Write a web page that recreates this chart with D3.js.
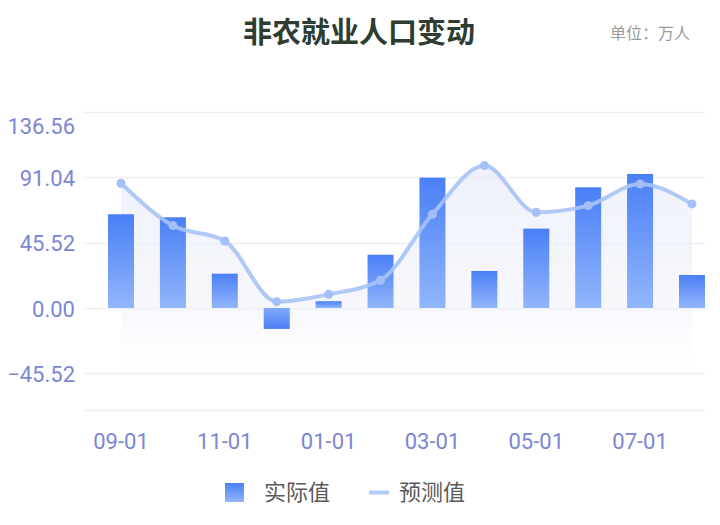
<!DOCTYPE html>
<html>
<head>
<meta charset="utf-8">
<script src="https://cdn.jsdelivr.net/npm/d3@7.9.0/dist/d3.min.js"></script>
<style>
  body { margin: 0; background: #fff; }
  svg { display: block; font-family: "Noto Sans CJK SC", "Noto Sans", sans-serif; }
  .num { font-family: Roboto, "Noto Sans", sans-serif; }
</style>
</head>
<body>
<svg id="chart" width="720" height="525"></svg>
<script>
const months = ["09-01", "10-01", "11-01", "12-01", "01-01", "02-01",
  "03-01", "04-01", "05-01", "06-01", "07-01", "08-01"];
const actual = [65.3, 63.2, 23.9, -14.6, 4.7, 37.1, 90.8, 25.8, 55.3, 84.1, 93.4, 23.0];
const forecast = [86.9, 57.4, 46.7, 4.4, 9.5, 19.3, 65.3, 99.2, 66.7, 71.3, 86.4, 72.5];
const yTicks = [-45.52, 0, 45.52, 91.04, 136.56];
const xTickLabels = ["09-01", "11-01", "01-01", "03-01", "05-01", "07-01"];

const svg = d3.select("#chart");
const area = { left: 83, right: 705, top: 112, bottom: 410 };

const x = d3.scalePoint().domain(months).range([121, 692]);
const y = d3.scaleLinear().domain([-71.1, 136.56]).range([area.bottom, area.top]);

const defs = svg.append("defs");
const barGrad = defs.append("linearGradient")
  .attr("id", "barGrad").attr("x1", 0).attr("y1", 0).attr("x2", 0).attr("y2", 1);
barGrad.append("stop").attr("offset", "0%").attr("stop-color", "#4a7ff6");
barGrad.append("stop").attr("offset", "100%").attr("stop-color", "#92b6fb");
const negGrad = defs.append("linearGradient")
  .attr("id", "negGrad").attr("x1", 0).attr("y1", 0).attr("x2", 0).attr("y2", 1);
negGrad.append("stop").attr("offset", "0%").attr("stop-color", "#7fa8fa");
negGrad.append("stop").attr("offset", "100%").attr("stop-color", "#4a7ff6");
const areaBottom = 366;
const areaGrad = defs.append("linearGradient")
  .attr("id", "areaGrad").attr("gradientUnits", "userSpaceOnUse")
  .attr("x1", 0).attr("y1", area.top).attr("x2", 0).attr("y2", areaBottom);
areaGrad.append("stop").attr("offset", "0%").attr("stop-color", "#e4e9f7").attr("stop-opacity", 0.75);
areaGrad.append("stop").attr("offset", "75%").attr("stop-color", "#eef1fa").attr("stop-opacity", 0.55);
areaGrad.append("stop").attr("offset", "100%").attr("stop-color", "#f6f7fc").attr("stop-opacity", 0.1);

// title
svg.append("text")
  .attr("x", 359).attr("y", 43)
  .attr("text-anchor", "middle")
  .attr("font-size", 29).attr("font-weight", 700)
  .attr("fill", "#2e3d31")
  .text("非农就业人口变动");
svg.append("text")
  .attr("x", 690).attr("y", 39)
  .attr("text-anchor", "end")
  .attr("font-size", 16)
  .attr("fill", "#9a9a9a")
  .text("单位：万人");

// grid
svg.append("g").selectAll("line")
  .data(yTicks.concat([y.domain()[0]]))
  .join("line")
  .attr("x1", area.left).attr("x2", area.right)
  .attr("y1", (d) => Math.round(y(d)) + 0.5)
  .attr("y2", (d) => Math.round(y(d)) + 0.5)
  .attr("stroke", "#eef0f6").attr("stroke-width", 1.5);

// y labels
svg.append("g").selectAll("text")
  .data(yTicks)
  .join("text")
  .attr("class", "num")
  .attr("x", 75)
  .attr("y", (d) => (d === 136.56 ? y(d) + 14 : y(d) + 1))
  .attr("dy", "0.35em")
  .attr("text-anchor", "end")
  .attr("font-size", 22)
  .attr("fill", "#7b86d2")
  .text((d) => d3.format(".2f")(d));

// x labels
svg.append("g").selectAll("text")
  .data(xTickLabels)
  .join("text")
  .attr("class", "num")
  .attr("x", (d) => x(d))
  .attr("y", 449)
  .attr("text-anchor", "middle")
  .attr("font-size", 22)
  .attr("fill", "#7b86d2")
  .text((d) => d);

// area under forecast
const curve = d3.curveMonotoneX;
svg.append("path")
  .datum(forecast)
  .attr("fill", "url(#areaGrad)")
  .attr("d", d3.area()
    .x((d, i) => x(months[i]))
    .y0(areaBottom)
    .y1((d) => y(d))
    .curve(curve));

// bars
const barW = 26;
svg.append("g").selectAll("rect")
  .data(actual)
  .join("rect")
  .attr("x", (d, i) => x(months[i]) - barW / 2)
  .attr("y", (d) => y(Math.max(0, d)))
  .attr("width", barW)
  .attr("height", (d) => Math.abs(y(d) - y(0)))
  .attr("fill", (d) => (d < 0 ? "url(#negGrad)" : "url(#barGrad)"));

// forecast line
svg.append("path")
  .datum(forecast)
  .attr("fill", "none")
  .attr("stroke", "#a9c3f6")
  .attr("stroke-width", 4)
  .attr("stroke-opacity", 0.9)
  .attr("d", d3.line()
    .x((d, i) => x(months[i]))
    .y((d) => y(d))
    .curve(curve));

svg.append("g").selectAll("circle")
  .data(forecast)
  .join("circle")
  .attr("cx", (d, i) => x(months[i]))
  .attr("cy", (d) => y(d))
  .attr("r", 4.5)
  .attr("fill", "#a3bff6");

// legend
const legend = svg.append("g");
legend.append("rect")
  .attr("x", 225).attr("y", 483).attr("width", 19).attr("height", 19)
  .attr("fill", "url(#barGrad)");
legend.append("text")
  .attr("x", 264).attr("y", 500)
  .attr("font-size", 22).attr("fill", "#5a5a5a")
  .text("实际值");
legend.append("line")
  .attr("x1", 369).attr("x2", 389).attr("y1", 492.5).attr("y2", 492.5)
  .attr("stroke", "#b4cbf5").attr("stroke-width", 4);
legend.append("text")
  .attr("x", 399).attr("y", 500)
  .attr("font-size", 22).attr("fill", "#5a5a5a")
  .text("预测值");
</script>
</body>
</html>
